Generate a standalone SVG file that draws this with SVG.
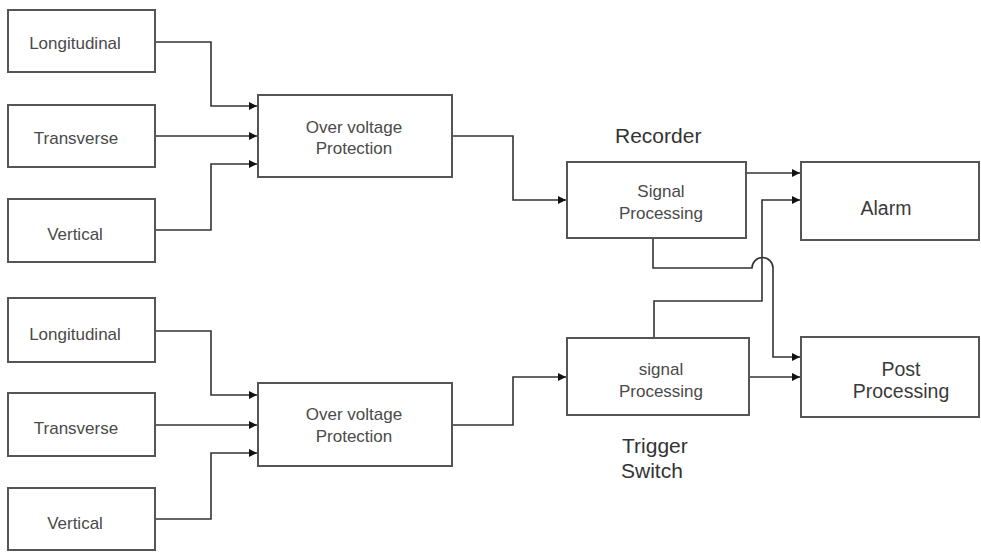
<svg xmlns="http://www.w3.org/2000/svg" width="981" height="552" viewBox="0 0 981 552">
<style>
.box{fill:#fff;stroke:#555;stroke-width:2}
.t{font-family:"Liberation Sans",Arial,sans-serif;font-size:17px;fill:#4a4a4a;text-anchor:middle}
.tb{font-family:"Liberation Sans",Arial,sans-serif;font-size:19.5px;fill:#3a3a3a;text-anchor:middle}
.lbl{font-family:"Liberation Sans",Arial,sans-serif;font-size:21px;fill:#333}
.c{fill:none;stroke:#333;stroke-width:1.6}
</style>
<defs>
<marker id="ah" viewBox="0 0 10 10" refX="10" refY="5" markerWidth="8" markerHeight="8" markerUnits="userSpaceOnUse" orient="auto">
<path d="M0,0 L10,5 L0,10 Z" fill="#111"/>
</marker>
</defs>
<rect width="981" height="552" fill="#fff"/>
<g id="connectors">
<path class="c" d="M155,42 H211 V106 H257" marker-end="url(#ah)"/>
<path class="c" d="M155,136 H257" marker-end="url(#ah)"/>
<path class="c" d="M155,230 H211 V164 H257" marker-end="url(#ah)"/>
<path class="c" d="M155,331 H211 V395 H257" marker-end="url(#ah)"/>
<path class="c" d="M155,425 H257" marker-end="url(#ah)"/>
<path class="c" d="M155,519 H211 V453 H257" marker-end="url(#ah)"/>
<path class="c" d="M452,136 H513 V200 H566" marker-end="url(#ah)"/>
<path class="c" d="M452,425 H513 V377 H566" marker-end="url(#ah)"/>
<path class="c" d="M746,173 H800" marker-end="url(#ah)"/>
<path class="c" d="M654,338 V301 H762 V200 H800" marker-end="url(#ah)"/>
<path class="c" d="M653,238 V268 H752 A10.5,10.5 0 0 1 773,268 V357 H800" marker-end="url(#ah)"/>
<path class="c" d="M749,377 H800" marker-end="url(#ah)"/>
</g>
<g id="n-long1"><rect class="box" x="8" y="10" width="147" height="62"/><text class="t" x="75" y="49">Longitudinal</text></g>
<g id="n-trans1"><rect class="box" x="8" y="105" width="147" height="62"/><text class="t" x="76" y="144">Transverse</text></g>
<g id="n-vert1"><rect class="box" x="8" y="199" width="147" height="63"/><text class="t" x="75" y="240">Vertical</text></g>
<g id="n-long2"><rect class="box" x="8" y="298" width="147" height="64"/><text class="t" x="75" y="340">Longitudinal</text></g>
<g id="n-trans2"><rect class="box" x="8" y="393" width="147" height="63"/><text class="t" x="76" y="434">Transverse</text></g>
<g id="n-vert2"><rect class="box" x="8" y="488" width="147" height="62"/><text class="t" x="75" y="529">Vertical</text></g>
<g id="n-ovp1"><rect class="box" x="258" y="95" width="194" height="82"/><text class="t" x="354" y="133">Over voltage</text><text class="t" x="354" y="154">Protection</text></g>
<g id="n-ovp2"><rect class="box" x="258" y="383" width="194" height="83"/><text class="t" x="354" y="420">Over voltage</text><text class="t" x="354" y="442">Protection</text></g>
<g id="n-rec"><rect class="box" x="567" y="162" width="179" height="76"/><text class="t" x="661" y="197">Signal</text><text class="t" x="661" y="219">Processing</text></g>
<g id="n-trig"><rect class="box" x="567" y="338" width="182" height="77"/><text class="t" x="661" y="375">signal</text><text class="t" x="661" y="397">Processing</text></g>
<g id="n-alarm"><rect class="box" x="801" y="162" width="178" height="78"/><text class="tb" x="886" y="215">Alarm</text></g>
<g id="n-post"><rect class="box" x="801" y="337" width="178" height="80"/><text class="tb" x="901" y="376">Post</text><text class="tb" x="901" y="398">Processing</text></g>
<g id="labels">
<text class="lbl" x="615" y="143">Recorder</text>
<text class="lbl" x="622" y="453">Trigger</text>
<text class="lbl" x="621" y="478">Switch</text>
</g>
</svg>
